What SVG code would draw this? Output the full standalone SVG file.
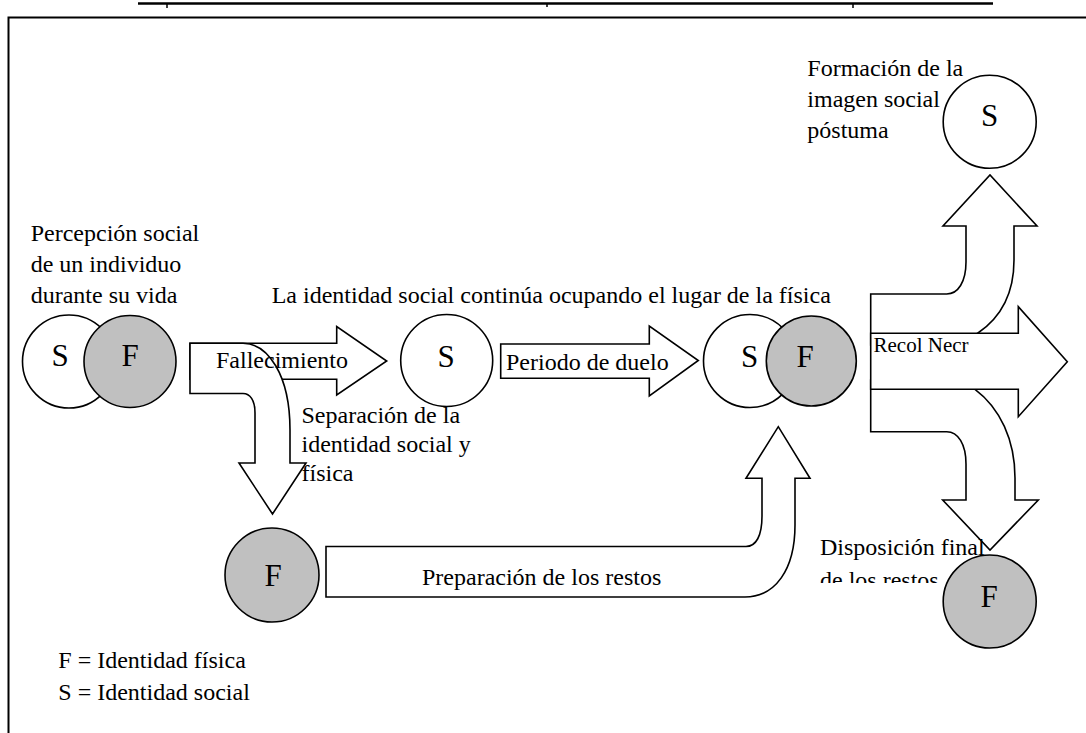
<svg xmlns="http://www.w3.org/2000/svg" width="1086" height="733" viewBox="0 0 1086 733">
<defs>
<style>
.t{font-family:"Liberation Serif","Times New Roman",serif;font-size:24px;fill:#000}
.c{font-family:"Liberation Serif","Times New Roman",serif;font-size:31px;fill:#000}
.s{fill:#fff;stroke:#000;stroke-width:1.6}
.g{fill:#c0c0c0;stroke:#000;stroke-width:1.6}
.a{fill:#fff;stroke:#000;stroke-width:1.6;stroke-linejoin:miter}
</style>
<clipPath id="clipDisp"><rect x="800" y="530" width="140" height="53"/></clipPath>
</defs>
<rect width="1086" height="733" fill="#fff"/>
<line x1="138" y1="3.5" x2="993" y2="3.5" stroke="#000" stroke-width="2.5"/>
<path d="M167,3 V8 M547,3 V7 M853,3 V8" stroke="#000" stroke-width="1.5" fill="none"/>
<rect x="8.5" y="17.5" width="1090" height="730" fill="none" stroke="#000" stroke-width="2"/>

<g id="connectors">
<path class="a" d="M190,343.3 L336.7,343.3 L336.7,326.5 L386.7,361 L336.7,395 L336.7,379.3 L190,379.3 Z"/>
<path class="a" d="M190,343.3 L243,343.3 C268,343.3 290,375 290,430 L290,463 L306,463 L272.5,514 L239,463 L255,463 L255,413 C255,400 250,393.5 243,393.5 L190,393.5 Z"/>
<path class="a" d="M500.7,344 L649.3,344 L649.3,326 L698.3,360.5 L649.3,396 L649.3,378.3 L500.7,378.3 Z"/>
<path class="a" d="M326,546.5 L746,546.5 C756,546.5 762,536 762,516 L762,478.3 L746,478.3 L778.3,426.7 L810,478.3 L795,478.3 L795,525 C795,570 775,597 745,597 L326,597 Z"/>
<path class="a" d="M870.7,294 L946.7,294 C958,294 966,282 966,262 L966,226 L943,226 L990,175 L1037,226 L1014,226 L1014,260 C1014,295 1000,318 978,333 L960,345 L870.7,345 Z"/>
<path class="a" d="M870.7,431.7 L946.7,431.7 C958,431.7 966,444 966,464 L966,500 L942.7,500 L990,550 L1038.3,500 L1015,500 L1015,478 C1015,440 1000,408 975,389.3 L960,380 L870.7,380 Z"/>
<path class="a" d="M870.7,333.3 L1018.3,333.3 L1018.3,306.7 L1067.3,361.7 L1018.3,416.7 L1018.3,389.3 L870.7,389.3 Z"/>
<text class="t" x="216" y="368.3">Fallecimiento</text>
<text class="t" x="506" y="370">Periodo de duelo</text>
<text class="t" x="422" y="585">Preparación de los restos</text>
<text class="t" x="873.5" y="352" style="font-size:21px">Recol Necr</text>
</g>

<g id="node-life">
<circle class="s" cx="69" cy="361.5" r="46.5"/>
<circle class="g" cx="130" cy="361.5" r="46"/>
<text class="c" x="60" y="366" text-anchor="middle">S</text>
<text class="c" x="130" y="366" text-anchor="middle">F</text>
<text class="t" x="30.7" y="241">Percepción social</text>
<text class="t" x="30.7" y="272">de un individuo</text>
<text class="t" x="30.7" y="303">durante su vida</text>
</g>

<g id="node-social">
<circle class="s" cx="446.7" cy="360.5" r="46"/>
<text class="c" x="446" y="367.3" text-anchor="middle">S</text>
<text class="t" x="271.7" y="302.7">La identidad social continúa ocupando el lugar de la física</text>
</g>

<g id="node-separation-label">
<text class="t" x="301.5" y="423">Separación de la</text>
<text class="t" x="301.5" y="452">identidad social y</text>
<text class="t" x="301.5" y="481">física</text>
</g>

<g id="node-physical">
<circle class="g" cx="272" cy="575" r="47"/>
<text class="c" x="273" y="586" text-anchor="middle">F</text>
</g>

<g id="node-rejoined">
<circle class="s" cx="750" cy="361" r="46.5"/>
<circle class="g" cx="811.3" cy="361" r="45"/>
<text class="c" x="749.5" y="367.3" text-anchor="middle">S</text>
<text class="c" x="805" y="367.3" text-anchor="middle">F</text>
</g>

<g id="node-posthumous">
<circle class="s" cx="989.7" cy="121.7" r="46.5"/>
<text class="c" x="989.5" y="126" text-anchor="middle">S</text>
<text class="t" x="807.3" y="76">Formación de la</text>
<text class="t" x="807.3" y="107">imagen social</text>
<text class="t" x="807.3" y="137.5">póstuma</text>
</g>

<g id="node-final">
<circle class="g" cx="989.7" cy="601.5" r="46.5"/>
<text class="c" x="989" y="606.7" text-anchor="middle">F</text>
<text class="t" x="820" y="555">Disposición final</text>
<text class="t" x="820" y="588" clip-path="url(#clipDisp)">de los restos</text>
</g>

<g id="legend">
<text class="t" x="58.3" y="668.3">F = Identidad física</text>
<text class="t" x="58.3" y="700">S = Identidad social</text>
</g>
</svg>
